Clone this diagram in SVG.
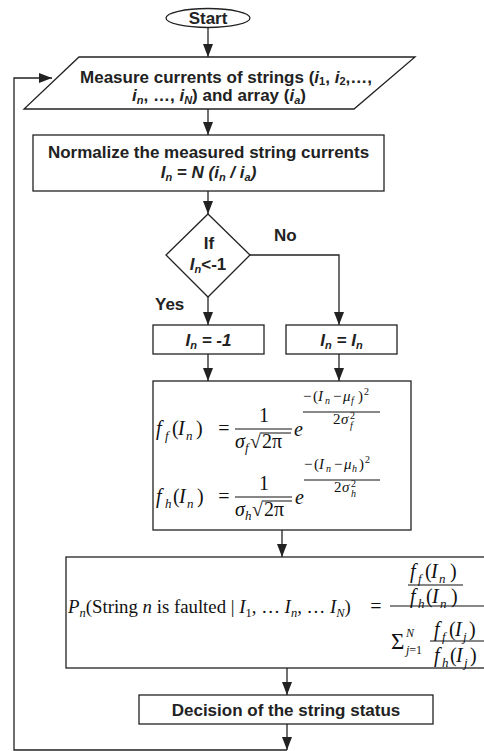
<svg xmlns="http://www.w3.org/2000/svg" width="484" height="751" viewBox="0 0 484 751">
<style>
.box{fill:#fff;stroke:#222;stroke-width:1.3}
.ln{fill:none;stroke:#222;stroke-width:1.3}
.lbl{font-family:"Liberation Sans",Arial,sans-serif;font-weight:bold;font-size:17px;fill:#222}
.it{font-style:italic}
.m{font-family:"Liberation Serif","Times New Roman",serif;font-size:20px;fill:#111}
.s{font-family:"Liberation Serif","Times New Roman",serif;font-size:13px;fill:#111}
.e{font-family:"Liberation Serif","Times New Roman",serif;font-size:15px;fill:#111}
.es{font-family:"Liberation Serif","Times New Roman",serif;font-size:10px;fill:#111}
.bar{stroke:#111;stroke-width:1.2}
.thin{stroke:#111;stroke-width:1}
</style>
<defs>
<marker id="ah" markerUnits="userSpaceOnUse" markerWidth="13" markerHeight="10" refX="13" refY="5" orient="auto">
<path d="M0,0 L13,5 L0,10 z" fill="#222"/>
</marker>
</defs>

<g id="connectors">
<line class="ln" x1="208" y1="27" x2="208" y2="57" marker-end="url(#ah)"/>
<line class="ln" x1="208" y1="109" x2="208" y2="135" marker-end="url(#ah)"/>
<line class="ln" x1="208" y1="191" x2="208" y2="214" marker-end="url(#ah)"/>
<line class="ln" x1="208" y1="297" x2="208" y2="325" marker-end="url(#ah)"/>
<polyline class="ln" points="250,255 339,255 339,325" marker-end="url(#ah)"/>
<line class="ln" x1="208" y1="354" x2="208" y2="381" marker-end="url(#ah)"/>
<line class="ln" x1="339" y1="354" x2="339" y2="381" marker-end="url(#ah)"/>
<line class="ln" x1="282" y1="530" x2="282" y2="557" marker-end="url(#ah)"/>
<line class="ln" x1="287" y1="668" x2="287" y2="695" marker-end="url(#ah)"/>
<line class="ln" x1="287" y1="724" x2="287" y2="750" marker-end="url(#ah)"/>
<polyline class="ln" points="287,750 14,750 14,78 52,78" marker-end="url(#ah)"/>
</g>

<g id="start">
<ellipse cx="208" cy="18" rx="42" ry="9.5" class="box"/>
<text x="208" y="24" text-anchor="middle" class="lbl">Start</text>
</g>

<g id="measure">
<polygon class="box" points="79,57 415,57 354,109 24,109"/>
<text x="226" y="83" text-anchor="middle" class="lbl">Measure currents of strings (<tspan class="it">i</tspan><tspan font-size="11" dy="2">1</tspan><tspan dy="-2">, </tspan><tspan class="it">i</tspan><tspan font-size="11" dy="2">2</tspan><tspan dy="-2">,…,</tspan></text>
<text x="219" y="101" text-anchor="middle" class="lbl"><tspan class="it">i</tspan><tspan class="it" font-size="11" dy="3">n</tspan><tspan dy="-3">, …, </tspan><tspan class="it">i</tspan><tspan class="it" font-size="11" dy="3">N</tspan><tspan dy="-3">) and array (</tspan><tspan class="it">i</tspan><tspan class="it" font-size="11" dy="3">a</tspan><tspan dy="-3">)</tspan></text>
</g>

<g id="normalize">
<rect class="box" x="33" y="135" width="351" height="56"/>
<text x="208.5" y="158" text-anchor="middle" class="lbl">Normalize the measured string currents</text>
<text x="208.5" y="178" text-anchor="middle" class="lbl it">I<tspan font-size="11" dy="3">n</tspan><tspan dy="-3"> = N (i</tspan><tspan font-size="11" dy="3">n</tspan><tspan dy="-3"> / i</tspan><tspan font-size="11" dy="3">a</tspan><tspan dy="-3">)</tspan></text>
</g>

<g id="decision-if">
<polygon class="box" points="208,214 250,255 208,297 166,255"/>
<text x="209" y="249" text-anchor="middle" class="lbl">If</text>
<text x="208" y="270" text-anchor="middle" class="lbl"><tspan class="it">I</tspan><tspan class="it" font-size="11" dy="3">n</tspan><tspan dy="-3">&lt;-1</tspan></text>
<text x="155" y="310" class="lbl">Yes</text>
<text x="274" y="241" class="lbl">No</text>
</g>

<g id="set-minus1">
<rect class="box" x="153" y="325" width="111" height="29"/>
<text x="208.5" y="346" text-anchor="middle" class="lbl it">I<tspan font-size="11" dy="3">n</tspan><tspan dy="-3"> = -1</tspan></text>
</g>

<g id="set-same">
<rect class="box" x="286" y="325" width="111" height="29"/>
<text x="341.5" y="346" text-anchor="middle" class="lbl it">I<tspan font-size="11" dy="3">n</tspan><tspan dy="-3"> = I</tspan><tspan font-size="11" dy="3">n</tspan></text>
</g>

<g id="pdf">
<rect class="box" x="153" y="381" width="258" height="149"/>
<!-- formula 1 -->
<text x="156" y="435" class="m it">f</text>
<text x="165" y="440" class="s it">f</text>
<text x="172" y="435" class="m">(</text>
<text x="178" y="435" class="m it">I</text>
<text x="186" y="440" class="s it">n</text>
<text x="196" y="435" class="m">)</text>
<text x="224" y="435" text-anchor="middle" class="m">=</text>
<text x="264" y="422" text-anchor="middle" class="m">1</text>
<line class="bar" x1="235" y1="429" x2="292" y2="429"/>
<text x="235" y="448" class="m it">σ</text>
<text x="245" y="452" class="s it">f</text>
<text x="250" y="448" class="m">√</text>
<text x="262" y="448" class="m">2π</text>
<line class="thin" x1="261" y1="433" x2="291" y2="433"/>
<text x="294" y="436" class="m it">e</text>
<text x="303" y="401" class="e">−</text>
<text x="313" y="401" class="e">(</text>
<text x="318" y="401" class="e it">I</text>
<text x="325" y="404" class="es it">n</text>
<text x="333" y="401" class="e">−</text>
<text x="343" y="401" class="e it">μ</text>
<text x="351" y="404" class="es it">f</text>
<text x="358" y="401" class="e">)</text>
<text x="364" y="395" class="es">2</text>
<line class="thin" x1="303" y1="412" x2="380" y2="412"/>
<text x="333" y="424" class="e">2</text>
<text x="341" y="424" class="e it">σ</text>
<text x="350" y="419" class="es">2</text>
<text x="350" y="429" class="es it">f</text>
<!-- formula 2 -->
<text x="156" y="503" class="m it">f</text>
<text x="165" y="508" class="s it">h</text>
<text x="173" y="503" class="m">(</text>
<text x="179" y="503" class="m it">I</text>
<text x="187" y="508" class="s it">n</text>
<text x="197" y="503" class="m">)</text>
<text x="224" y="503" text-anchor="middle" class="m">=</text>
<text x="264" y="490" text-anchor="middle" class="m">1</text>
<line class="bar" x1="235" y1="497" x2="292" y2="497"/>
<text x="235" y="516" class="m it">σ</text>
<text x="245" y="520" class="s it">h</text>
<text x="252" y="516" class="m">√</text>
<text x="264" y="516" class="m">2π</text>
<line class="thin" x1="263" y1="501" x2="292" y2="501"/>
<text x="295" y="504" class="m it">e</text>
<text x="304" y="469" class="e">−</text>
<text x="314" y="469" class="e">(</text>
<text x="319" y="469" class="e it">I</text>
<text x="326" y="472" class="es it">n</text>
<text x="334" y="469" class="e">−</text>
<text x="344" y="469" class="e it">μ</text>
<text x="352" y="472" class="es it">h</text>
<text x="359" y="469" class="e">)</text>
<text x="365" y="463" class="es">2</text>
<line class="thin" x1="304" y1="480" x2="380" y2="480"/>
<text x="334" y="492" class="e">2</text>
<text x="342" y="492" class="e it">σ</text>
<text x="351" y="487" class="es">2</text>
<text x="351" y="497" class="es it">h</text>
</g>

<g id="posterior">
<rect class="box" x="66" y="557" width="430" height="111"/>
<text x="68" y="613" class="m" style="font-size:18.8px"><tspan class="it">P</tspan><tspan class="it" font-size="12.5" dy="4">n</tspan><tspan dy="-4">(String </tspan><tspan class="it">n</tspan><tspan> is faulted | </tspan><tspan class="it">I</tspan><tspan font-size="12.5" dy="4">1</tspan><tspan dy="-4">, … </tspan><tspan class="it">I</tspan><tspan class="it" font-size="12.5" dy="4">n</tspan><tspan dy="-4">, … </tspan><tspan class="it">I</tspan><tspan class="it" font-size="12.5" dy="4">N</tspan><tspan dy="-4">)</tspan></text>
<text x="376" y="613" text-anchor="middle" class="m">=</text>
<text x="410" y="578" class="m it">f</text>
<text x="418" y="583" class="s it">f</text>
<text x="425" y="578" class="m">(</text>
<text x="431" y="578" class="m it">I</text>
<text x="439" y="583" class="s it">n</text>
<text x="450" y="578" class="m">)</text>
<line class="bar" x1="408" y1="585" x2="463" y2="585"/>
<text x="410" y="603" class="m it">f</text>
<text x="418" y="608" class="s it">h</text>
<text x="426" y="603" class="m">(</text>
<text x="432" y="603" class="m it">I</text>
<text x="440" y="608" class="s it">n</text>
<text x="451" y="603" class="m">)</text>
<line class="bar" x1="390" y1="606" x2="484" y2="606"/>
<text x="391" y="649" class="m" style="font-size:23px">Σ</text>
<text x="406" y="637" class="s it" style="font-size:12px">N</text>
<text x="406" y="654" class="s" style="font-size:12px"><tspan class="it">j</tspan>=1</text>
<text x="434" y="636" class="m it">f</text>
<text x="442" y="641" class="s it">f</text>
<text x="449" y="636" class="m">(</text>
<text x="455" y="636" class="m it">I</text>
<text x="463" y="641" class="s it">j</text>
<text x="469" y="636" class="m">)</text>
<line class="bar" x1="430" y1="641" x2="484" y2="641"/>
<text x="434" y="662" class="m it">f</text>
<text x="442" y="667" class="s it">h</text>
<text x="450" y="662" class="m">(</text>
<text x="456" y="662" class="m it">I</text>
<text x="464" y="667" class="s it">j</text>
<text x="470" y="662" class="m">)</text>
</g>

<g id="status">
<rect class="box" x="139" y="695" width="294" height="29"/>
<text x="286" y="716" text-anchor="middle" class="lbl">Decision of the string status</text>
</g>
</svg>
